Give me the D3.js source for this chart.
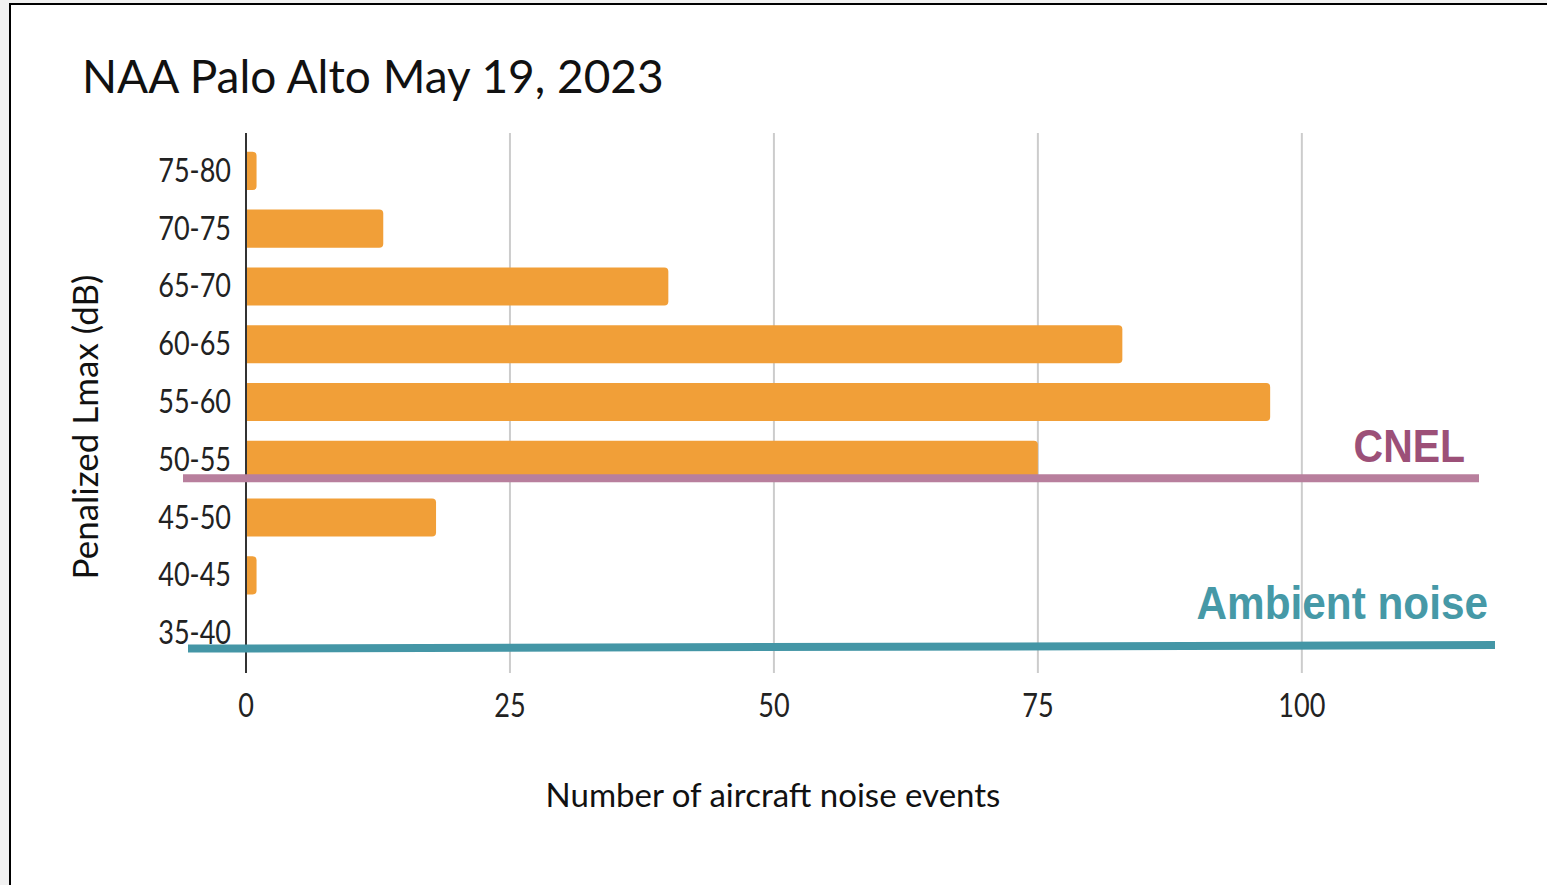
<!DOCTYPE html>
<html><head><meta charset="utf-8">
<script src="https://cdn.jsdelivr.net/npm/d3@7"></script>
<style>html,body{margin:0;padding:0;background:#f1f1f1;overflow:hidden}svg{display:block}</style>
</head><body>
<svg id="c" width="1547" height="885"></svg>
<script>
const categories = ["75-80","70-75","65-70","60-65","55-60","50-55","45-50","40-45","35-40"];
const counts = [1,13,40,83,97,75,18,1,0];
const xTicks = [0,25,50,75,100];
const titleText = "NAA Palo Alto May 19, 2023";
const xTitleText = "Number of aircraft noise events";
const yTitleText = "Penalized Lmax (dB)";
const refLabels = ["CNEL","Ambient noise"];
const refBands = ["50-55","35-40"];
const refColors = ["#9c5078","#4699a7"];
const refLineColors = ["#b87f9d","#4496a6"];

const svg = d3.select("#c");

// frame
svg.append("rect").attr("x",10).attr("y",4).attr("width",1547).attr("height",885).attr("fill","#fff");
svg.append("line").attr("x1",10).attr("x2",10).attr("y1",3).attr("y2",885).attr("stroke","#000").attr("stroke-width",2);
svg.append("line").attr("x1",9).attr("x2",1547).attr("y1",4).attr("y2",4).attr("stroke","#000").attr("stroke-width",2);

const x = d3.scaleLinear().domain([0,120]).range([246,1513]);
const y = d3.scaleBand().domain(categories).range([142,662]).paddingInner(0.34).paddingOuter(0.17);
const plotTop = 133, plotBottom = 673;

function txt(g, s, px, py, anchor, sx){
  return g.append("text").text(s).attr("text-anchor",anchor)
    .attr("transform",`translate(${px},${py}) scale(${sx},1)`);
}

// gridlines
svg.append("g").selectAll("line").data(xTicks.filter(d=>d>0)).join("line")
  .attr("x1",d=>x(d)).attr("x2",d=>x(d)).attr("y1",plotTop).attr("y2",plotBottom)
  .attr("stroke","#cccccc").attr("stroke-width",2);

// bars with rounded right corners
const r = 4;
svg.append("g").selectAll("path").data(categories.map((c,i)=>({c,v:counts[i]})).filter(d=>d.v>0)).join("path")
  .attr("fill","#f19f38")
  .attr("d",d=>{
    const x0=x(0), x1=x(d.v), y0=y(d.c), h=y.bandwidth();
    const rr=Math.min(r,(x1-x0)/2);
    return `M${x0},${y0}H${x1-rr}Q${x1},${y0} ${x1},${y0+rr}V${y0+h-rr}Q${x1},${y0+h} ${x1-rr},${y0+h}H${x0}Z`;
  });

// axis line
svg.append("line").attr("x1",x(0)).attr("x2",x(0)).attr("y1",plotTop).attr("y2",plotBottom)
  .attr("stroke","#333").attr("stroke-width",2);

// tick labels
const lab = svg.append("g").attr("font-family","Lato").attr("font-size",32).attr("fill","#222");
categories.forEach(c=>txt(lab,c,231,y(c)+y.bandwidth()/2+11,"end",0.845));
xTicks.forEach(t=>txt(lab,String(t),x(t),717,"middle",0.845));

// titles
const tg = svg.append("g").attr("font-family","Lato").attr("fill","#111");
txt(tg,titleText,82,93,"start",1).attr("font-size",46);
txt(tg,xTitleText,773,807,"middle",1).attr("font-size",33);
tg.append("text").text(yTitleText).attr("font-size",35).attr("text-anchor","middle")
  .attr("transform",`translate(98,427) rotate(-90)`);

// reference lines
const refG = svg.append("g");
const cnelY = y(refBands[0]) + y.bandwidth() - 0.5;
refG.append("line").attr("x1",183).attr("x2",1479).attr("y1",cnelY).attr("y2",cnelY)
  .attr("stroke",refLineColors[0]).attr("stroke-width",8);
const ambY = y(refBands[1]) + y.bandwidth()/2 + 14;
refG.append("line").attr("x1",188).attr("x2",1495).attr("y1",ambY+1.5).attr("y2",ambY-2)
  .attr("stroke",refLineColors[1]).attr("stroke-width",8);
const rl = svg.append("g").attr("font-family","Liberation Sans, Arial").attr("font-weight","bold").attr("font-size",46);
txt(rl,refLabels[0],1465,462,"end",0.89).attr("fill",refColors[0]);
txt(rl,refLabels[1],1488,619,"end",0.92).attr("fill",refColors[1]);
</script>
</body></html>
